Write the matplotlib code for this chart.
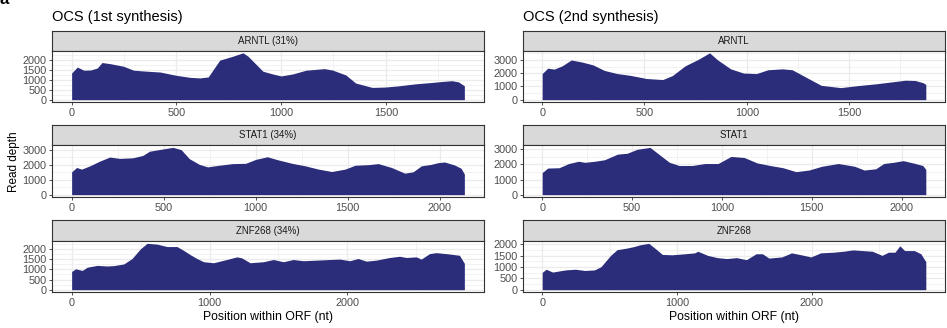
import matplotlib.pyplot as plt
from matplotlib.ticker import MultipleLocator

plt.rcParams['font.family'] = ['Liberation Sans', 'DejaVu Sans']

# read depth along the ORF, 1st and 2nd synthesis
arntl_pos_1 = [0, 27, 58, 90, 122, 145, 185, 248, 296, 359, 422, 500, 565, 612, 652, 707, 770, 818, 842, 913,
               960, 1000, 1055, 1119, 1206, 1245, 1309, 1356, 1435, 1498, 1562, 1641, 1720, 1767, 1815, 1847, 1875]
arntl_depth_1 = [1350, 1650, 1490, 1500, 1600, 1880, 1820, 1690, 1490, 1440, 1400, 1230, 1130, 1100, 1150, 2000, 2200, 2370, 2200, 1440,
                 1300, 1200, 1300, 1490, 1570, 1500, 1250, 840, 620, 640, 700, 800, 870, 920, 960, 900, 700]
arntl_pos_2 = [0, 27, 59, 98, 142, 193, 248, 304, 367, 430, 509, 589, 636, 699, 763, 818, 858, 921, 984, 1047,
               1103, 1174, 1222, 1301, 1364, 1459, 1554, 1633, 1712, 1775, 1823, 1862, 1875]
arntl_depth_2 = [1970, 2380, 2310, 2560, 3000, 2850, 2630, 2210, 1970, 1840, 1600, 1520, 1820, 2560, 3050, 3540, 3000, 2330, 2010, 1970,
                 2260, 2330, 2260, 1600, 1080, 910, 1080, 1200, 1350, 1470, 1450, 1280, 1150]

stat1_pos_1 = [0, 27, 54, 99, 153, 207, 261, 333, 387, 423, 495, 550, 595, 640, 694, 739, 802, 874, 946, 1000,
               1063, 1126, 1198, 1270, 1342, 1414, 1486, 1541, 1613, 1667, 1739, 1811, 1856, 1901, 1955, 1991, 2027, 2081, 2117, 2135]
stat1_depth_1 = [1530, 1820, 1710, 1930, 2250, 2520, 2430, 2470, 2630, 2910, 3060, 3170, 3020, 2410, 2030, 1860, 1970, 2080, 2100, 2360,
                 2540, 2320, 2100, 1930, 1710, 1550, 1710, 1970, 2010, 2080, 1820, 1440, 1530, 1930, 2030, 2140, 2190, 1990, 1770, 1380]
stat1_pos_2 = [0, 31, 94, 148, 202, 238, 293, 347, 419, 473, 528, 600, 654, 708, 762, 835, 907, 979, 1051, 1124,
               1196, 1268, 1341, 1413, 1485, 1557, 1648, 1738, 1792, 1856, 1901, 1955, 2009, 2063, 2118, 2135]
stat1_depth_2 = [1460, 1760, 1780, 2060, 2210, 2140, 2210, 2310, 2680, 2740, 3000, 3130, 2630, 2140, 1930, 1930, 2060, 2060, 2530, 2460,
                 2100, 1930, 1780, 1520, 1630, 1880, 2060, 1880, 1630, 1710, 2060, 2140, 2250, 2100, 1930, 1670]

znf268_pos_1 = [0, 29, 77, 113, 185, 258, 306, 378, 438, 499, 547, 619, 692, 764, 812, 860, 908, 957, 1029, 1125,
                1198, 1234, 1294, 1390, 1463, 1535, 1607, 1680, 1776, 1872, 1945, 2017, 2077, 2137, 2210, 2306, 2378, 2427,
                2499, 2535, 2595, 2643, 2716, 2812, 2848]
znf268_depth_1 = [900, 1030, 950, 1110, 1200, 1170, 1190, 1270, 1540, 2020, 2290, 2250, 2130, 2130, 1940, 1730, 1540, 1380, 1330, 1490,
                  1620, 1570, 1330, 1380, 1490, 1380, 1490, 1430, 1460, 1490, 1510, 1430, 1540, 1410, 1460, 1590, 1650, 1590,
                  1620, 1510, 1780, 1830, 1780, 1700, 1300]
znf268_pos_2 = [0, 29, 77, 173, 245, 317, 388, 436, 508, 556, 628, 676, 724, 791, 844, 892, 964, 1060, 1132, 1156,
                1228, 1300, 1372, 1444, 1516, 1588, 1635, 1683, 1779, 1851, 1923, 1995, 2067, 2163, 2235, 2307, 2379, 2451,
                2523, 2571, 2619, 2655, 2691, 2763, 2811, 2848]
znf268_depth_2 = [760, 900, 775, 870, 900, 845, 870, 1010, 1510, 1760, 1830, 1890, 1970, 2040, 1790, 1550, 1535, 1580, 1620, 1690,
                  1510, 1410, 1370, 1410, 1320, 1580, 1580, 1390, 1440, 1620, 1535, 1440, 1620, 1650, 1690, 1750, 1720, 1690,
                  1510, 1650, 1650, 1930, 1720, 1720, 1580, 1230]

titles = ['OCS (1st synthesis)', 'OCS (2nd synthesis)']
strips_1 = ['ARNTL (31%)', 'STAT1 (34%)', 'ZNF268 (34%)']
strips_2 = ['ARNTL', 'STAT1', 'ZNF268']

navy = '#2B2D7A'
W, H = 947, 328

def box(x0, x1, y0, y1):
    return [x0 / W, 1 - y1 / H, (x1 - x0) / W, (y1 - y0) / H]

fig = plt.figure(figsize=(W / 100, H / 100), dpi=100)

cols = [(52, 484), (523, 945)]
rows = [(31, 50.5, 102), (125, 145, 197), (220, 241, 292)]

panels = [
    [(arntl_pos_1, arntl_depth_1, 500, 500), (stat1_pos_1, stat1_depth_1, 1000, 500), (znf268_pos_1, znf268_depth_1, 500, 1000)],
    [(arntl_pos_2, arntl_depth_2, 1000, 500), (stat1_pos_2, stat1_depth_2, 1000, 500), (znf268_pos_2, znf268_depth_2, 500, 1000)],
]
strips = [strips_1, strips_2]

for c, (x0, x1) in enumerate(cols):
    fig.text(x0 / W, 1 - 17 / H, titles[c], fontsize=10.5, va='center', ha='left')
    fig.text((x0 + x1) / 2 / W, 1 - 317 / H, 'Position within ORF (nt)', fontsize=8.8, va='center', ha='center')
    for r, (ys, ym, yb) in enumerate(rows):
        pos, depth, ystep, xstep = panels[c][r]

        # strip
        sax = fig.add_axes(box(x0, x1, ys, ym))
        sax.set_facecolor('#D9D9D9')
        sax.set_xticks([])
        sax.set_yticks([])
        for sp in sax.spines.values():
            sp.set_color('#333333')
            sp.set_linewidth(0.8)
        sax.text(0.5, 0.5, strips[c][r], transform=sax.transAxes, ha='center', va='center',
                 fontsize=7, color='#1A1A1A')

        ax = fig.add_axes(box(x0, x1, ym, yb))
        ax.fill_between(pos, depth, 0, color=navy, lw=0, zorder=2)
        L = pos[-1]
        M = max(depth)
        ax.set_xlim(-0.05 * L, 1.05 * L)
        ax.set_ylim(-0.05 * M, 1.05 * M)
        ax.xaxis.set_major_locator(MultipleLocator(xstep))
        ax.xaxis.set_minor_locator(MultipleLocator(xstep / 2))
        ax.yaxis.set_major_locator(MultipleLocator(ystep))
        ax.yaxis.set_minor_locator(MultipleLocator(ystep / 2))
        ax.grid(which='major', color='#EBEBEB', lw=0.9, zorder=0)
        ax.grid(which='minor', color='#EBEBEB', lw=0.45, zorder=0)
        ax.set_axisbelow(True)
        ax.tick_params(which='major', length=2.5, width=0.6, color='#333333', labelsize=7.8,
                       labelcolor='#4D4D4D', pad=1.5)
        ax.tick_params(which='minor', length=0)
        for sp in ax.spines.values():
            sp.set_color('#333333')
            sp.set_linewidth(0.8)

fig.text(14 / W, 1 - 162 / H, 'Read depth', fontsize=8.5, rotation=90, va='center', ha='center')
# cut-off panel letter in the corner
fig.text(0.0, 1 - 4 / H, 'a', fontsize=12, weight='bold', va='baseline', ha='left')

fig.savefig('out.png', dpi=100)
